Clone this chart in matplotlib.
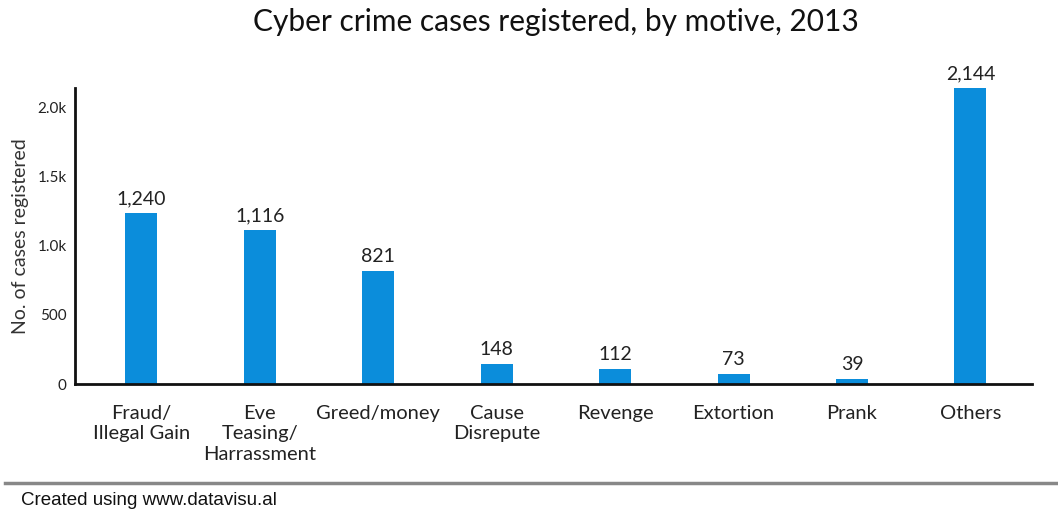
import matplotlib.pyplot as plt
from matplotlib.lines import Line2D

categories = ["Fraud/\nIllegal Gain", "Eve\nTeasing/\nHarrassment", "Greed/money",
              "Cause\nDisrepute", "Revenge", "Extortion", "Prank", "Others"]
cases = [1240, 1116, 821, 148, 112, 73, 39, 2144]
yticks = [0, 500, 1000, 1500, 2000]
ytick_labels = ["0", "500", "1.0k", "1.5k", "2.0k"]

plt.rcParams["font.family"] = ["Lato", "DejaVu Sans"]

fig = plt.figure(figsize=(10.58, 5.14), dpi=100)
ax = fig.add_axes([0.0709, 0.2529, 0.9045, 0.5759])

x = range(len(categories))
ax.bar(x, cases, width=0.27, color="#0b8ddb")
for i, v in zip(x, cases):
    ax.text(i, v + 40, f"{v:,}", ha="center", va="bottom", fontsize=14, color="#222222")

ax.set_xlim(-0.56, 7.52)
ax.set_ylim(0, 2144)
ax.set_yticks(yticks)
ax.set_yticklabels(ytick_labels)
ax.set_xticks(list(x))
ax.set_xticklabels(categories, fontsize=14.5, color="#222222", linespacing=1.25)
ax.tick_params(axis="y", length=0, labelsize=11, pad=6, colors="#222222")
ax.tick_params(axis="x", length=0, pad=15)
for s in ["top", "right"]:
    ax.spines[s].set_visible(False)
for s in ["left", "bottom"]:
    ax.spines[s].set_linewidth(2)
    ax.spines[s].set_color("#111111")
ax.set_ylabel("No. of cases registered", fontsize=14, color="#333333", labelpad=6)

fig.text(0.525, 0.958, "Cyber crime cases registered, by motive, 2013",
         ha="center", va="center", fontsize=21.5, color="#111111")

fig.add_artist(Line2D([0.005, 1.0], [0.06, 0.06], color="#888888", linewidth=2.5,
                      transform=fig.transFigure))
fig.text(0.02, 0.027, "Created using www.datavisu.al", ha="left", va="center",
         fontsize=13.5, color="#111111", family="Liberation Sans")

fig.savefig("out.png", dpi=100)
